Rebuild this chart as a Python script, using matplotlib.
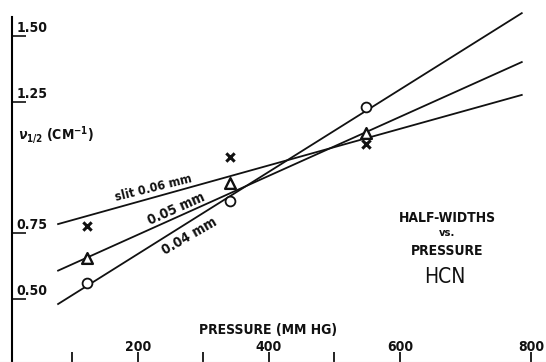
import matplotlib

matplotlib.use("Agg")

import matplotlib.pyplot as plt
import numpy as np

# measured points (pressure in mm Hg, half-width in cm^-1)
pressure = [122, 341, 548]
width_06 = [0.778, 1.039, 1.088]  # x markers
width_05 = [0.656, 0.942, 1.130]  # triangles
width_04 = [0.561, 0.873, 1.231]  # circles

# fitted straight lines, drawn between two end pressures
line_p = [78, 786]
line_06 = [0.785, 1.276]
line_05 = [0.608, 1.401]
line_04 = [0.481, 1.587]

x_ticks = [100, 200, 300, 400, 500, 600, 800]
x_tick_labels = ["", "200", "", "400", "", "600", "800"]
y_ticks = [0.50, 0.75, 1.25, 1.50]
y_tick_labels = ["0.50", "0.75", "1.25", "1.50"]

plt.rcParams["font.family"] = ["DejaVu Sans"]
plt.rcParams["font.stretch"] = "condensed"
plt.rcParams["font.weight"] = "bold"

fig = plt.figure(figsize=(5.46, 3.62), dpi=100)
ax = fig.add_axes([0, 0, 1, 1])
ax.set_xlim(-10.7, 823)
ax.set_ylim(0.2605, 1.637)

for side in ("top", "right"):
    ax.spines[side].set_visible(False)
ax.spines["bottom"].set_color("#d8d8d8")
ax.spines["bottom"].set_linewidth(0.8)
ax.spines["left"].set_position(("axes", 12 / 546))
ax.spines["left"].set_bounds(0.2605, 1.572)
ax.spines["left"].set_linewidth(1.5)

ink = "#111111"
ax.plot(line_p, line_06, color=ink, linewidth=1.3)
ax.plot(line_p, line_05, color=ink, linewidth=1.3)
ax.plot(line_p, line_04, color=ink, linewidth=1.3)

ax.scatter(pressure, width_06, marker="x", s=36, color=ink, linewidths=2.2, zorder=3)
ax.scatter(pressure, width_05, marker="^", s=60, facecolors="white",
           edgecolors=ink, linewidths=1.7, zorder=3)
ax.scatter(pressure, width_04, marker="o", s=50, facecolors="white",
           edgecolors=ink, linewidths=1.3, zorder=3)

ax.set_xticks(x_ticks)
ax.set_xticklabels(x_tick_labels)
ax.tick_params(axis="x", direction="in", length=7, width=1.3, color=ink,
               pad=-15.5, labelsize=10, labelcolor=ink)

ax.set_yticks(y_ticks)
ax.set_yticklabels([])
ax.tick_params(axis="y", direction="in", length=10, width=1.2, color=ink)
for value, text in zip(y_ticks, y_tick_labels):
    ax.text(15, value + 0.004, text, ha="left", va="bottom", fontsize=10,
            color=ink)

ax.text(17, 1.124, r"$\nu_{1/2}$ (CM$^{-1}$)", ha="left", va="center",
        fontsize=10, color=ink)
ax.text(398, 0.382, "PRESSURE (MM HG)", ha="center", va="center",
        fontsize=10, color=ink)

ax.text(223, 0.922, "slit 0.06 mm", ha="center", va="center", rotation=14,
        fontsize=9, color=ink)
ax.text(259, 0.842, "0.05 mm", ha="center", va="center", rotation=24,
        fontsize=10, color=ink)
ax.text(279, 0.740, "0.04 mm", ha="center", va="center", rotation=30,
        fontsize=10, color=ink)

ax.text(672, 0.808, "HALF-WIDTHS", ha="center", va="center",
        fontsize=10, color=ink)
ax.text(672, 0.751, "vs.", ha="center", va="center",
        fontsize=8, color=ink)
ax.text(672, 0.683, "PRESSURE", ha="center", va="center",
        fontsize=10, color=ink)
ax.text(669, 0.584, "HCN", ha="center", va="center",
        fontsize=15, fontweight="normal", color=ink)

fig.savefig("out.png", dpi=100)
plt.close(fig)
